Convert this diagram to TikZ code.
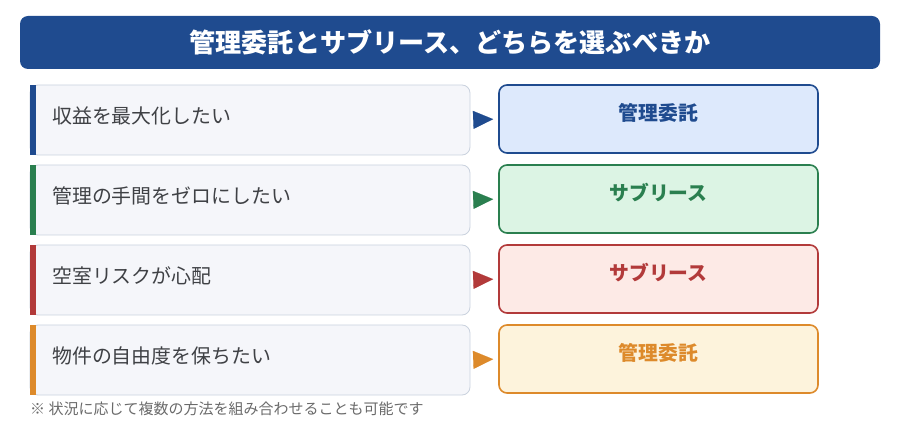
\documentclass[tikz,border=0pt]{standalone}
\usepackage{fontspec}
\setmainfont{Noto Sans CJK JP}
\usetikzlibrary{arrows.meta}
\definecolor{titleblue}{HTML}{1F4B8F}
\definecolor{cblue}{HTML}{1F4B8F}
\definecolor{cgreen}{HTML}{2A7F4F}
\definecolor{cred}{HTML}{B23A3A}
\definecolor{corange}{HTML}{DD8A2B}
\definecolor{fblue}{HTML}{DDE9FC}
\definecolor{fgreen}{HTML}{DCF4E4}
\definecolor{fred}{HTML}{FDEAE6}
\definecolor{forange}{HTML}{FDF3DC}
\definecolor{qfill}{HTML}{F5F6FA}
\definecolor{qborder}{HTML}{CAD2DE}
\definecolor{qtext}{HTML}{3F4145}
\definecolor{notegray}{HTML}{6A6A6A}
\tikzset{
  qbox/.style={draw=qborder, line width=0.8pt, fill=qfill, rounded corners=8pt,
    minimum width=440pt, minimum height=70pt, inner sep=0pt},
  qbar/.style={fill=#1, draw=none},
  qtxt/.style={anchor=west, inner sep=0pt, text=qtext, font=\fontsize{19.9}{22}\selectfont},
  abox/.style={draw=#1, line width=1.6pt, rounded corners=8pt,
    minimum width=319pt, minimum height=68pt, inner sep=0pt},
  atxt/.style={inner sep=0pt, text=#1, font=\fontsize{19.8}{22}\selectfont\bfseries},
  tri/.style={draw=#1, fill=#1, line width=0.1pt, shorten <=4pt, shorten >=5pt,
    -{Triangle[length=20pt,width=18pt]}}
}
\begin{document}
\begin{tikzpicture}[x=1pt,y=-1pt]
\useasboundingbox (0,0) rectangle (900,430);
% title
\node[fill=titleblue, rounded corners=8pt, minimum width=860pt, minimum height=53pt, inner sep=0pt] (title) at (450,42.5) {};
\node[text=white, inner sep=0pt, font=\fontsize{26.1}{28}\selectfont\bfseries] (titletxt) at (450,42) {管理委託とサブリース、どちらを選ぶべきか};
% rows
\foreach \i/\y/\q/\a/\c/\f in {
  1/120/収益を最大化したい/管理委託/cblue/fblue,
  2/200/管理の手間をゼロにしたい/サブリース/cgreen/fgreen,
  3/280/空室リスクが心配/サブリース/cred/fred,
  4/360/物件の自由度を保ちたい/管理委託/corange/forange}{
  \node[qbox] (q\i) at (250,\y) {};
  \fill[qbar=\c] (q\i.north west) rectangle ([xshift=6pt]q\i.south west);
  \node[qtxt] (qt\i) at (52,\y-4.5) {\q};
  \node[abox=\c, fill=\f] (r\i) at (658.5,\y-1) {};
  \node[atxt=\c] (rt\i) at (658.5,\y-7) {\a};
  \draw[tri=\c] (q\i.east) -- (r\i.west);
}
% footnote
\node[anchor=west, inner sep=0pt, text=notegray, font=\fontsize{15}{17}\selectfont] (note) at (30,409) {※ 状況に応じて複数の方法を組み合わせることも可能です};
\end{tikzpicture}
\end{document}
